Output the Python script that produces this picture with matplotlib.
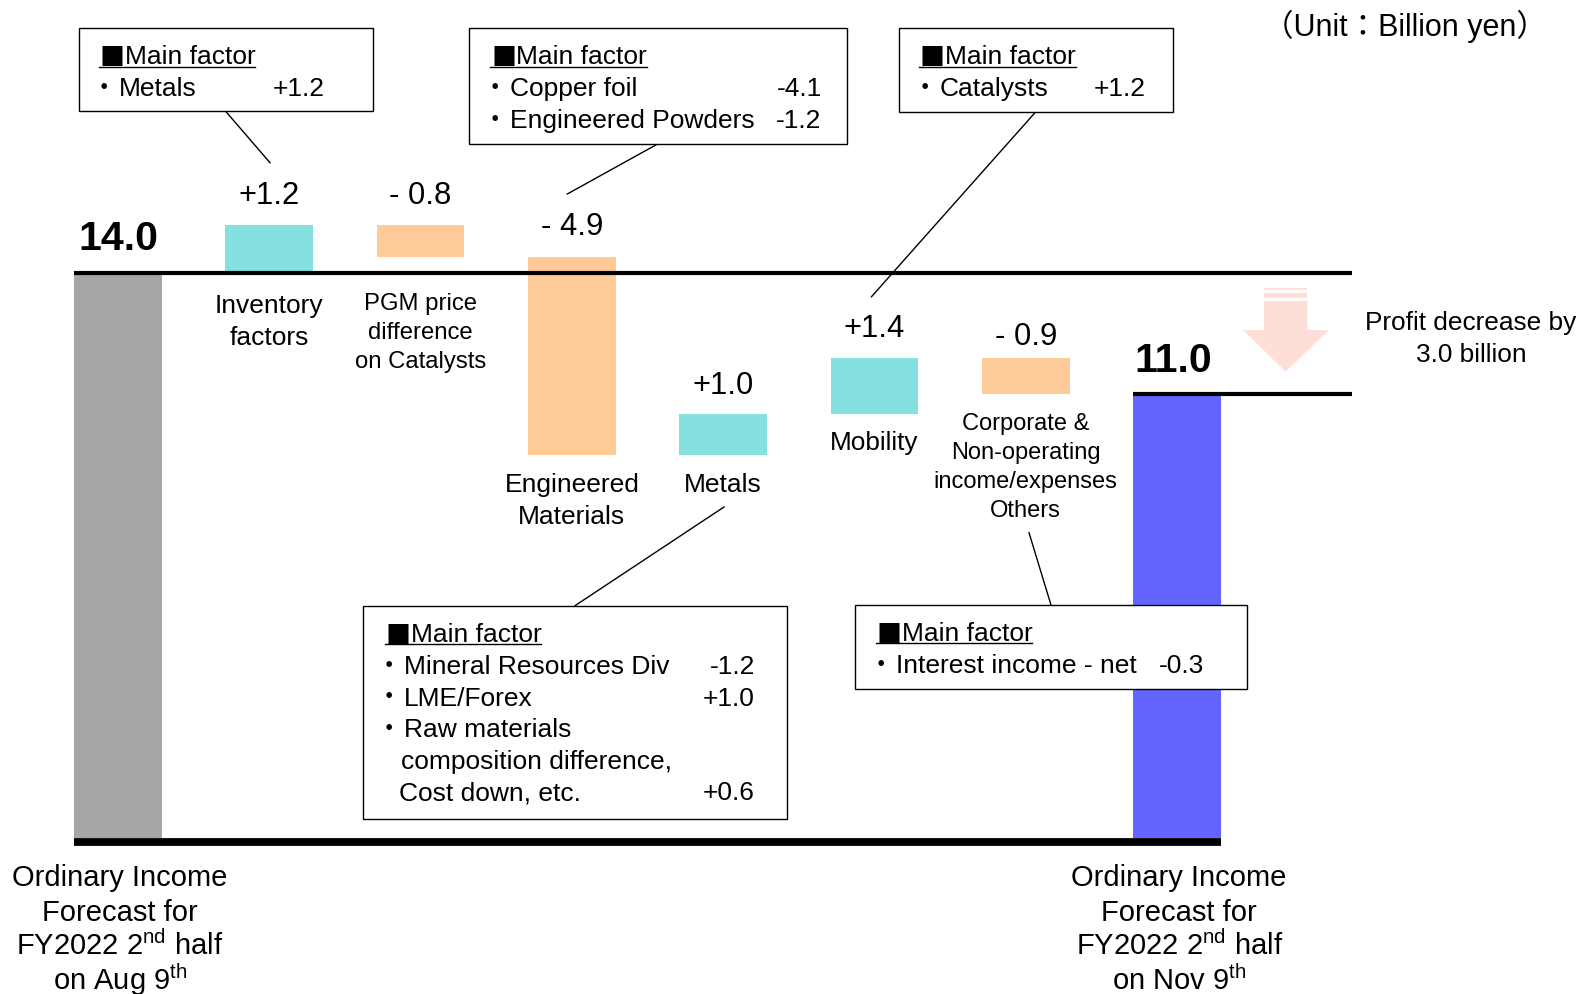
import matplotlib
matplotlib.use("Agg")
import matplotlib.pyplot as plt
from matplotlib.patches import Rectangle, Polygon
from matplotlib.transforms import offset_copy

plt.rcParams["font.family"] = ["Liberation Sans", "Noto Sans CJK JP", "DejaVu Sans"]
plt.rcParams["mathtext.fontset"] = "custom"
plt.rcParams["mathtext.rm"] = "Liberation Sans"

# ---------------------------------------------------------------- data
START_VALUE = 14.0
END_VALUE = 11.0
START_TEXT = "14.0"
END_TEXT = "11.0"

STEP_NAMES = [
    "Inventory\nfactors",
    "PGM price\ndifference\non Catalysts",
    "Engineered\nMaterials",
    "Metals",
    "Mobility",
    "Corporate &\nNon-operating\nincome/expenses\nOthers",
]
STEP_VALUES = [1.2, -0.8, -4.9, 1.0, 1.4, -0.9]
STEP_TEXTS = ["+1.2", "- 0.8", "- 4.9", "+1.0", "+1.4", "- 0.9"]

START_NAME = ["Ordinary Income", "Forecast for",
              "FY2022 2$^{\\mathrm{nd}}$ half", "on Aug 9$^{\\mathrm{th}}$"]
END_NAME = ["Ordinary Income", "Forecast for",
            "FY2022 2$^{\\mathrm{nd}}$ half", "on Nov 9$^{\\mathrm{th}}$"]

# factor boxes: rows of (bullet, text, value)
NOTE_ROWS = [
    [(True, "Metals", "+1.2")],
    [(True, "Copper foil", "-4.1"), (True, "Engineered Powders", "-1.2")],
    [(True, "Catalysts", "+1.2")],
    [(True, "Mineral Resources Div", "-1.2"), (True, "LME/Forex", "+1.0"),
     (True, "Raw materials", ""), (False, "composition difference,", ""),
     (False, "Cost down, etc.", "+0.6")],
    [(True, "Interest income - net", "-0.3")],
]
NOTE_TITLE = "Main factor"
UNIT_TEXT = "（Unit：Billion yen）"
SUMMARY_LINES = ["Profit decrease by", "3.0 billion"]

# ---------------------------------------------------------------- style / layout
W, H = 1581, 994
PX_PER_UNIT = 40.36
ZERO_PX = 838
X0_PX = 118
STEP_PX = 151.3
BAR_W = 0.58
LINE_RIGHT = 8.156

GRAY = "#A6A6A6"
UP = "#85E0E0"
DOWN = "#FFCC99"
BLUE = "#6464FF"
ARROW = "#FDDFD8"

VALUE_GAP = [21, 21, 22, 20, 21, 13]          # px above bar top (baseline)
NAME_GAP = [40, 53, 37, 37, 36, 36]           # px below bar bottom (first baseline)
NAME_SIZE = [19, 17.2, 19, 19, 18.8, 17]
NAME_STEP = [32.3, 29.2, 32.0, 32.0, 32.0, 29.0]

BOX_RECTS = [(78.5, 27.5, 372.5, 111), (469, 27.5, 846.5, 144),
             (899, 28, 1172.5, 111.5), (362.5, 605.5, 786.5, 819),
             (855, 605, 1247, 689)]
BOX_LINKS = [((226, 111.7), (270, 162.7)), ((656.7, 144.5), (567.3, 194)),
             ((1035.6, 112), (871.5, 296.7)), ((575.3, 605.5), (724, 507)),
             ((1029, 532.7), (1051, 605))]
TITLE_LEFT = [100.7, 492, 921, 386.7, 877.7]
TITLE_BASE = [64.5, 64.5, 64.5, 642.3, 641]
TEXT_LEFT = [119.3, 510, 939.5, 404.3, 896]
VALUE_RIGHT = [324.3, 821.7, 1146, 755, 1204]
ROW_STEP = 31.6

fig = plt.figure(figsize=(W / 100, H / 100), dpi=100)
ax = fig.add_axes([0, 0, 1, 1])
ax.set_xlim(-X0_PX / STEP_PX, (W - X0_PX) / STEP_PX)
ax.set_ylim(-(H - ZERO_PX) / PX_PER_UNIT, ZERO_PX / PX_PER_UNIT)
ax.axis("off")

ov = fig.add_axes([0, 0, 1, 1])
ov.set_xlim(0, W)
ov.set_ylim(H, 0)
ov.axis("off")


def shifted(dx=0, dy=0):
    return offset_copy(ax.transData, fig=fig, x=dx, y=dy, units="dots")


# ---------------------------------------------------------------- waterfall
levels = [START_VALUE]
for v in STEP_VALUES:
    levels.append(levels[-1] + v)
n = len(STEP_VALUES)
xs = list(range(1, n + 1))
bottoms = [min(levels[i], levels[i + 1]) for i in range(n)]
tops = [max(levels[i], levels[i + 1]) for i in range(n)]
heights = [abs(v) for v in STEP_VALUES]
colors = [UP if v > 0 else DOWN for v in STEP_VALUES]

ax.bar(0, START_VALUE, width=BAR_W, color=GRAY, zorder=2)
ax.bar(xs, heights, bottom=bottoms, width=BAR_W, color=colors, zorder=2)
ax.bar(n + 1, END_VALUE, width=BAR_W, color=BLUE, zorder=2)

ax.plot([-BAR_W / 2, LINE_RIGHT], [START_VALUE, START_VALUE],
        color="black", lw=3, solid_capstyle="butt", zorder=3)
ax.plot([n + 1 - BAR_W / 2, LINE_RIGHT], [END_VALUE, END_VALUE],
        color="black", lw=3, solid_capstyle="butt", zorder=3)
ax.plot([-BAR_W / 2, n + 1 + BAR_W / 2], [0, 0], color="black", lw=5.6,
        solid_capstyle="butt", zorder=3, transform=shifted(dy=-4))

ax.text(-BAR_W / 2, START_VALUE, START_TEXT, fontsize=29.5, fontweight="bold",
        ha="left", va="baseline", transform=shifted(dx=4, dy=23))
ax.text(n + 1 - BAR_W / 2, END_VALUE, END_TEXT, fontsize=29.5, fontweight="bold",
        ha="left", va="baseline", transform=shifted(dx=1, dy=22))

for i in range(n):
    ax.text(xs[i], tops[i], STEP_TEXTS[i], fontsize=22.3, ha="center",
            va="baseline", transform=shifted(dy=VALUE_GAP[i]))
    for k, line in enumerate(STEP_NAMES[i].split("\n")):
        ax.text(xs[i], bottoms[i], line, fontsize=NAME_SIZE[i],
                ha="center", va="baseline",
                transform=shifted(dy=-NAME_GAP[i] - NAME_STEP[i] * k))

for x, lines in [(0, START_NAME), (n + 1, END_NAME)]:
    for k, line in enumerate(lines):
        ax.text(x, 0, line, fontsize=21, ha="center", va="baseline",
                transform=shifted(dx=2, dy=-48 - 34.7 * k))

# ---------------------------------------------------------------- annotations
ov.text(1263, 36, UNIT_TEXT, fontsize=22, ha="left", va="baseline")
for k, line in enumerate(SUMMARY_LINES):
    ov.text(1471, 330 + 31.7 * k, line, fontsize=18.9, ha="center", va="baseline")

# down arrow
ov.add_patch(Polygon([(1264, 301), (1307.4, 301), (1307.4, 330), (1329, 330),
                      (1285.7, 371.7), (1243, 330), (1264, 330)],
                     closed=True, facecolor=ARROW, edgecolor="none"))
ov.add_patch(Rectangle((1264, 293.3), 43.4, 4.4, facecolor=ARROW, edgecolor="none"))
ov.add_patch(Rectangle((1264, 287.7), 43.4, 1.8, facecolor=ARROW, edgecolor="none"))

title_texts = []
for b, rows in enumerate(NOTE_ROWS):
    x0, y0, x1, y1 = BOX_RECTS[b]
    ov.add_patch(Rectangle((x0, y0), x1 - x0, y1 - y0, facecolor="white",
                           edgecolor="black", lw=1.0, zorder=4))
    (ax0, ay0), (ax1, ay1) = BOX_LINKS[b]
    ov.plot([ax0, ax1], [ay0, ay1], color="black", lw=1.0, zorder=3)

    base = TITLE_BASE[b]
    ov.text(TITLE_LEFT[b] - 1, base + 1, "■", family=["Noto Sans CJK JP"], fontsize=18,
            ha="left", va="baseline", zorder=5)
    t = ov.text(TITLE_LEFT[b] + 24, base, NOTE_TITLE, fontsize=19,
                ha="left", va="baseline", zorder=5)
    title_texts.append((TITLE_LEFT[b] - 2, base, t))

    for r, (bullet, text, value) in enumerate(rows):
        yb = base + ROW_STEP * (r + 1)
        if bullet:
            ov.text(TEXT_LEFT[b] - 15, yb, "・", family=["Noto Sans CJK JP"],
                    fontsize=19, ha="center", va="baseline", zorder=5)
            ov.text(TEXT_LEFT[b], yb, text, fontsize=19, ha="left",
                    va="baseline", zorder=5)
        else:
            ov.text(TEXT_LEFT[b] - 3 - 2.5 * (r - 3), yb, text, fontsize=19,
                    ha="left", va="baseline", zorder=5)
        if value:
            ov.text(VALUE_RIGHT[b], yb, value, fontsize=19, ha="right",
                    va="baseline", zorder=5)

# underline the box titles
fig.canvas.draw()
renderer = fig.canvas.get_renderer()
inv = ov.transData.inverted()
for left, base, t in title_texts:
    bb = t.get_window_extent(renderer)
    right = inv.transform((bb.x1, bb.y0))[0]
    ov.plot([left, right], [base + 2, base + 2], color="black", lw=1.0, zorder=5)

fig.savefig("out.png", dpi=100)
